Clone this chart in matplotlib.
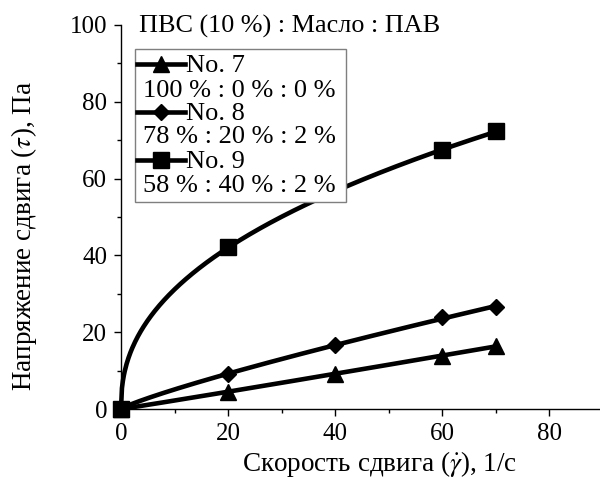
import numpy as np
import matplotlib
matplotlib.use('Agg')
import matplotlib.pyplot as plt
from matplotlib.lines import Line2D
from matplotlib.patches import Rectangle
from matplotlib.ticker import MultipleLocator

plt.rcParams['font.family'] = ['Liberation Serif', 'DejaVu Serif']
plt.rcParams['mathtext.fontset'] = 'stix'
plt.rcParams['font.size'] = 19

# Shear rate (1/s) and shear stress (Pa) for the three samples
shear_rate = [0, 20, 40, 60, 70]
stress_no7 = [0, 4.5, 9.2, 13.8, 16.4]
stress_no8 = [0, 9.2, 16.6, 23.9, 26.5]
stress_no9 = [0, 42.1, 56.5, 67.4, 72.5]

sample_names = ['No. 7', 'No. 8', 'No. 9']
sample_ratios = ['100 % : 0 % : 0 %', '78 % : 20 % : 2 %', '58 % : 40 % : 2 %']
markers = ['^', 'D', 's']
marker_sizes = [12, 8.5, 11]
legend_title = 'ПВС (10 %) : Масло : ПАВ'


def power_fit(x, y):
    # tau = K * gamma^n fitted on the non-zero points
    x = np.asarray(x, float)
    y = np.asarray(y, float)
    m = x > 0
    n, logk = np.polyfit(np.log(x[m]), np.log(y[m]), 1)
    xs = np.linspace(0, x.max(), 400)
    return xs, np.exp(logk) * xs ** n


fig = plt.figure(figsize=(6, 4.8), dpi=100)
ax = fig.add_axes([121 / 600, 1 - 409 / 480, 482 / 600, 384 / 480])

lw = 3.3
for ys, mk, ms in zip([stress_no7, stress_no8, stress_no9], markers, marker_sizes):
    xs, fit = power_fit(shear_rate, ys)
    ax.plot(xs, fit, color='black', lw=lw, zorder=2, clip_on=False)
    ax.plot(shear_rate, ys, linestyle='none', marker=mk, ms=ms, color='black',
            zorder=3, clip_on=False)

ax.set_xlim(0, 90)
ax.set_ylim(0, 100)
ax.xaxis.set_major_locator(MultipleLocator(20))
ax.xaxis.set_minor_locator(MultipleLocator(10))
ax.yaxis.set_major_locator(MultipleLocator(20))
ax.yaxis.set_minor_locator(MultipleLocator(10))
ax.tick_params(which='major', direction='out', length=5, width=1, pad=5,
               labelsize=18)
ax.tick_params(which='minor', direction='out', length=3, width=1)
ax.spines['top'].set_visible(False)
ax.spines['right'].set_visible(False)
for s in ['left', 'bottom']:
    ax.spines[s].set_linewidth(1)

ax.set_xlabel(r'Скорость сдвига ($\dot{\gamma}$), 1/с', fontsize=19.5)
ax.set_ylabel(r'Напряжение сдвига ($\tau$), Па', fontsize=19.5)
ax.xaxis.set_label_coords(0.537, -0.105)
ax.yaxis.set_label_coords(-0.17, 0.45)

# legend block: title above a framed box, each sample with its ratio below
ax.text(0.037, 0.979, legend_title, transform=ax.transAxes, va='baseline',
        ha='left', fontsize=18.8, zorder=6)
ax.add_patch(Rectangle((0.029, 0.539), 0.438, 0.3985, transform=ax.transAxes,
                       facecolor='white', edgecolor='#7f7f7f', lw=1,
                       zorder=4, clip_on=False))
handle_y = [0.898, 0.773, 0.648]
name_y = [0.878, 0.753, 0.628]
ratio_y = [0.8125, 0.693, 0.565]
for i in range(3):
    ax.add_line(Line2D([0.033, 0.133], [handle_y[i]] * 2, transform=ax.transAxes,
                       color='black', lw=lw, zorder=5, clip_on=False))
    ax.add_line(Line2D([0.083], [handle_y[i]], transform=ax.transAxes,
                       marker=markers[i], ms=marker_sizes[i], color='black',
                       zorder=5, clip_on=False))
    ax.text(0.135, name_y[i], sample_names[i], transform=ax.transAxes,
            va='baseline', ha='left', zorder=6)
    ax.text(0.046, ratio_y[i], sample_ratios[i], transform=ax.transAxes,
            va='baseline', ha='left', zorder=6)

fig.savefig('out.png', dpi=100)
